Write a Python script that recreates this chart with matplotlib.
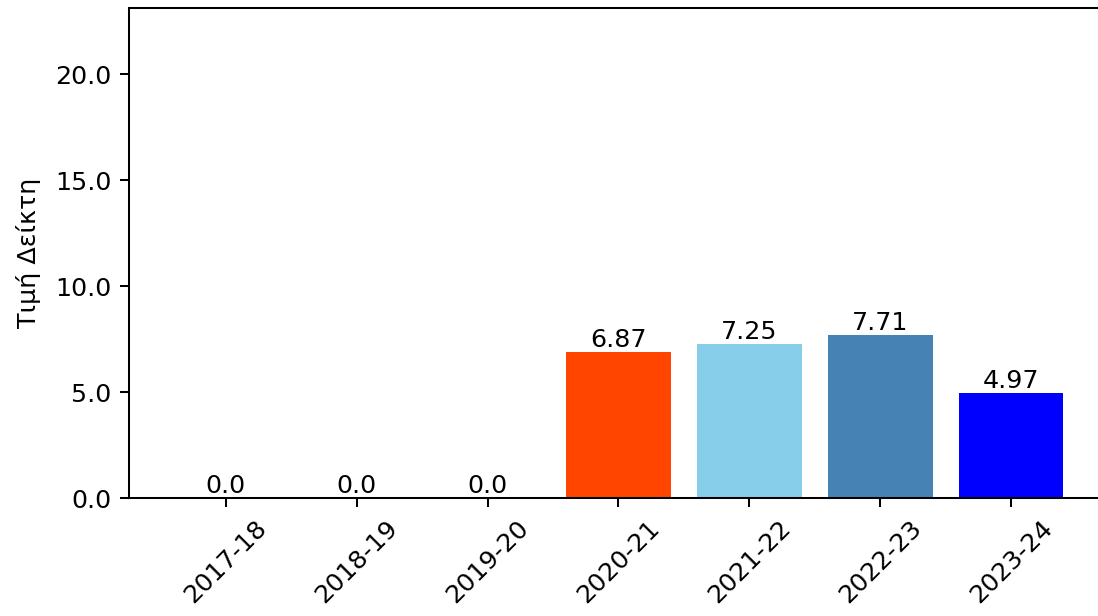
import matplotlib
matplotlib.use("Agg")
import matplotlib.pyplot as plt

categories = ["2017-18", "2018-19", "2019-20", "2020-21", "2021-22", "2022-23", "2023-24"]
values = [0.0, 0.0, 0.0, 6.87, 7.25, 7.71, 4.97]
labels = ["0.0", "0.0", "0.0", "6.87", "7.25", "7.71", "4.97"]
colors = ["#1f77b4", "#1f77b4", "#1f77b4", "#FF4500", "#87CEEB", "#4682B4", "#0000FF"]
yticks = [0.0, 5.0, 10.0, 15.0, 20.0]

W, H = 1098, 616
dpi = 183
fig = plt.figure(figsize=(W / dpi, H / dpi), dpi=dpi)
ax = fig.add_axes([129 / W, (H - 498) / H, (1108 - 129) / W, (498 - 8) / H])

x = list(range(len(categories)))
ax.bar(x, values, color=colors, width=0.8)
for xi, v, lab in zip(x, values, labels):
    ax.text(xi, v, lab, ha="center", va="bottom", fontsize=10)

ax.set_ylim(0, 7.71 * 3)
ax.set_yticks(yticks)
ax.set_yticklabels([f"{t:.1f}" for t in yticks])
ax.set_xticks(x)
ax.set_xticklabels(categories, rotation=45)
ax.set_ylabel("Τιμή Δείκτη", labelpad=5.5)

fig.savefig("out.png", dpi=dpi)
